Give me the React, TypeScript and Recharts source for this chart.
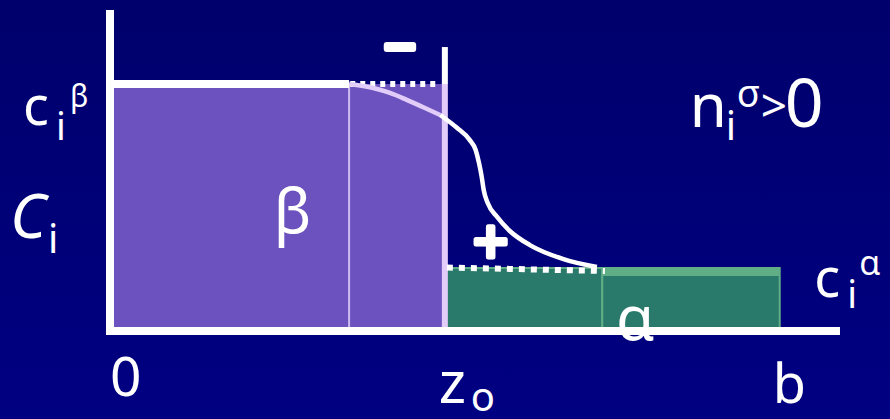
import {
  ComposedChart,
  Line,
  ReferenceArea,
  ReferenceDot,
  ReferenceLine,
  XAxis,
  YAxis,
} from 'recharts';

// concentrations (fraction of c_i^beta)
const cBeta = 1;
const cAlpha = 0.255;
const cAlphaBand = 0.223;

// positions along z
const z0 = 0.5;
const bEnd = 1;
const betaSplit = 0.357;
const alphaSplit = 0.735;
const wallTop = 1.15;
const zMax = 1.09;
const cMax = 1.3;

// real profile c_i(z)
const plateau = [
  { x: 0, y: 1 },
  { x: 0.357, y: 1 },
];
const profileInBeta = [
  { x: 0.357, y: 1 },
  { x: 0.393, y: 0.984 },
  { x: 0.418, y: 0.964 },
  { x: 0.443, y: 0.936 },
  { x: 0.467, y: 0.907 },
  { x: 0.493, y: 0.875 },
];
const profileOutside = [
  { x: 0.493, y: 0.875 },
  { x: 0.518, y: 0.823 },
  { x: 0.537, y: 0.774 },
  { x: 0.546, y: 0.733 },
  { x: 0.551, y: 0.68 },
  { x: 0.555, y: 0.624 },
  { x: 0.558, y: 0.571 },
  { x: 0.564, y: 0.518 },
  { x: 0.578, y: 0.462 },
  { x: 0.597, y: 0.405 },
  { x: 0.627, y: 0.348 },
  { x: 0.676, y: 0.292 },
  { x: 0.727, y: 0.259 },
];

// dotted extrapolations of the bulk values
const dottedBeta = [
  { x: 0.299, y: 1 },
  { x: 0.49, y: 1 },
];
const dottedAlpha = [
  { x: 0.503, y: 0.257 },
  { x: 0.739, y: 0.243 },
];

// tick labels on the z axis
const zTicks = [0, z0, bEnd];

const FONT = "'Noto Sans', 'DejaVu Sans', sans-serif";

type Part = {
  t: string;
  dx: number;
  dy: number;
  size: number;
  italic?: boolean;
  thick?: number;
  middle?: boolean;
};

const glyphs = (parts: Part[]) => (props: any) => {
  const vb = props.viewBox;
  const cx = vb.x + vb.width / 2;
  const cy = vb.y + vb.height / 2;
  return (
    <g>
      {parts.map((p, i) => (
        <text
          key={i}
          x={cx + p.dx}
          y={cy + p.dy}
          fontSize={p.size}
          fontFamily={FONT}
          fontStyle={p.italic ? 'italic' : 'normal'}
          fill='#fff'
          stroke={p.thick ? '#fff' : 'none'}
          strokeWidth={p.thick || 0}
          strokeLinejoin='round'
          textAnchor={p.middle ? 'middle' : 'start'}
        >
          {p.t}
        </text>
      ))}
    </g>
  );
};

const notes: { x: number; y: number; parts: Part[] }[] = [
  {
    x: 0,
    y: cBeta,
    parts: [
      { t: 'c', dx: -87, dy: 41, size: 54 },
      { t: 'i', dx: -54, dy: 56, size: 38 },
      { t: 'β', dx: -40, dy: 23, size: 30 },
    ],
  },
  {
    x: 0,
    y: 0.5,
    parts: [
      { t: 'C', dx: -100, dy: 30, size: 62, italic: true },
      { t: 'i', dx: -62, dy: 45, size: 40 },
    ],
  },
  { x: 0.25, y: 0.5, parts: [{ t: 'β', dx: -4, dy: 25, size: 62 }] },
  { x: 0.76, y: 0, parts: [{ t: 'α', dx: -3, dy: 9, size: 62 }] },
  { x: 0.43, y: cBeta, parts: [{ t: '−', dx: 2, dy: -17, size: 56, thick: 6, middle: true }] },
  { x: 0.57, y: cAlpha, parts: [{ t: '+', dx: -1, dy: -4, size: 62, thick: 5, middle: true }] },
  {
    x: 0.87,
    y: cBeta,
    parts: [
      { t: 'n', dx: -3, dy: 43, size: 60 },
      { t: 'i', dx: 33, dy: 56, size: 40 },
      { t: 'σ', dx: 44, dy: 23, size: 38 },
      { t: '>', dx: 68, dy: 38, size: 46 },
      { t: '0', dx: 92, dy: 43, size: 68 },
    ],
  },
  {
    x: 1.05,
    y: cAlpha,
    parts: [
      { t: 'c', dx: 1, dy: 29, size: 54 },
      { t: 'i', dx: 34, dy: 40, size: 38 },
      { t: 'α', dx: 46, dy: 7, size: 34 },
    ],
  },
  { x: zTicks[0], y: 0, parts: [{ t: '0', dx: 0, dy: 65, size: 55 }] },
  {
    x: zTicks[1],
    y: 0,
    parts: [
      { t: 'z', dx: -6, dy: 72, size: 58 },
      { t: 'o', dx: 26, dy: 80, size: 40 },
    ],
  },
  { x: zTicks[2], y: 0, parts: [{ t: 'b', dx: -7, dy: 72, size: 54 }] },
];

function App() {
  return (
    <div
      style={{
        position: 'fixed',
        left: 0,
        top: 0,
        width: 890,
        height: 419,
        background: 'linear-gradient(#00006c, #000082)',
      }}
    >
      <ComposedChart
        width={890}
        height={419}
        margin={{ top: 10, right: 50, bottom: 88, left: 110 }}
      >
        <XAxis type='number' dataKey='x' domain={[0, zMax]} hide />
        <YAxis type='number' domain={[0, cMax]} hide />
        <ReferenceArea x1={0} x2={betaSplit} y1={0} y2={cBeta} fill='#6c52be' fillOpacity={1} stroke='none' />
        <ReferenceArea x1={betaSplit} x2={z0} y1={0} y2={cBeta} fill='#6c52be' fillOpacity={1} stroke='none' />
        <ReferenceLine segment={[{ x: betaSplit, y: 0 }, { x: betaSplit, y: cBeta }]} stroke='#cbbcf2' strokeWidth={2} />
        <ReferenceArea x1={z0} x2={alphaSplit} y1={0} y2={cAlpha} fill='#2a7a6b' fillOpacity={1} stroke='#5fae86' strokeWidth={2} />
        <ReferenceArea x1={alphaSplit} x2={bEnd} y1={0} y2={cAlpha} fill='#2a7a6b' fillOpacity={1} stroke='#5fae86' strokeWidth={2} />
        <ReferenceArea x1={alphaSplit} x2={bEnd} y1={cAlphaBand} y2={cAlpha} fill='#5fae86' fillOpacity={1} stroke='none' />
        <ReferenceLine segment={[{ x: z0, y: 0 }, { x: z0, y: cBeta }]} stroke='#e2ccf9' strokeWidth={6} />
        <ReferenceLine segment={[{ x: z0, y: cBeta }, { x: z0, y: wallTop }]} stroke='#fff' strokeWidth={6} />
        <ReferenceLine segment={[{ x: 0, y: 0 }, { x: 0, y: cMax }]} stroke='#fff' strokeWidth={8} />
        <ReferenceLine
          segment={[{ x: 0, y: 0 }, { x: 1.084, y: 0 }]}
          stroke='#fff'
          strokeWidth={8}
          strokeLinecap='square'
        />
        <Line data={dottedBeta} dataKey='y' type='linear' stroke='#fff' strokeWidth={6} strokeDasharray='5 5' dot={false} isAnimationActive={false} />
        <Line data={dottedAlpha} dataKey='y' type='linear' stroke='#fff' strokeWidth={6} strokeDasharray='6 6' dot={false} isAnimationActive={false} />
        <Line data={plateau} dataKey='y' type='linear' stroke='#fff' strokeWidth={8} dot={false} isAnimationActive={false} />
        <Line data={profileInBeta} dataKey='y' type='monotone' stroke='#e2ccf9' strokeWidth={4.5} dot={false} isAnimationActive={false} />
        <Line data={profileOutside} dataKey='y' type='monotone' stroke='#fff' strokeWidth={4.5} dot={false} isAnimationActive={false} />
        {notes.map((n, i) => (
          <ReferenceDot
            key={i}
            x={n.x}
            y={n.y}
            r={1}
            fill='none'
            stroke='none'
            label={glyphs(n.parts)}
          />
        ))}
      </ComposedChart>
    </div>
  );
}

export default App;
